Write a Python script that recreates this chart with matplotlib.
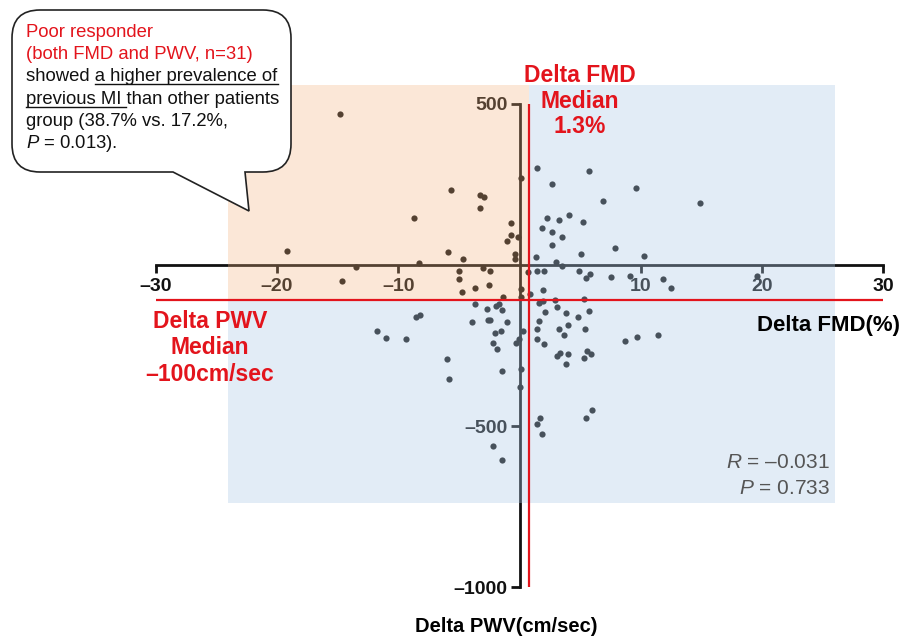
"""
Delta FMD vs Delta PWV scatter with median split (poor responder quadrant shaded).
Output -> out.png (910x640)
"""
import matplotlib.pyplot as plt
from matplotlib.patches import Rectangle, Polygon, PathPatch
from matplotlib.path import Path
from matplotlib.lines import Line2D

plt.rcParams["font.family"] = ["Liberation Sans", "DejaVu Sans"]
plt.rcParams["mathtext.fontset"] = "custom"
plt.rcParams["mathtext.rm"] = "Liberation Sans"
plt.rcParams["mathtext.it"] = "Liberation Sans:italic"

W, H = 910, 640

# ── data ──────────────────────────────────────────────────────
fmd_delta = [
    -14.77, -5.67, -3.28, -2.90, -3.28, -8.70, -0.73, -0.68, -1.03, -0.15,
    -0.40, -0.37, -19.19, -5.92, -4.68, -8.29, 0.16, -13.48, -3.01, -2.47,
    -4.99, -5.01, -2.49, -3.69, -4.72, -1.34, 0.12, 0.12, -14.66,
    -3.63, -1.90, -1.71, -2.72, -1.47, -8.52, -8.19, -2.43, -2.62, -3.90,
    -1.01, -11.77, -11.01, -9.32, -2.02, -1.51, -2.17, -1.85, -0.31, -0.04,
    0.31, -6.00, -5.79, -1.42, 0.11, 0.04, -2.18, -1.48,
    1.44, 5.71, 2.64, 9.62, 6.86, 14.91, 2.28, 3.28, 4.06, 5.25, 1.87, 2.70,
    3.52, 2.70, 7.89, 1.32, 5.03, 10.25, 3.03, 3.52, 0.70, 1.40, 1.98, 4.92,
    5.85, 5.48, 7.58, 9.11, 11.81, 12.47, 19.56, 1.91, 0.87, 5.33,
    1.58, 1.90, 2.93, 3.07, 2.10, 3.86, 4.85, 5.73, 1.61, 1.42, 3.26, 4.02,
    3.63, 5.40, 1.48, 2.00, 8.70, 9.69, 11.44, 3.36, 3.12, 3.96, 3.81, 5.59,
    5.89, 5.32, 1.69, 1.40, 1.83, 5.46, 6.00,
]
pwv_delta = [
    467, 233, 217, 212, 178, 146, 131, 94, 75, 88,
    35, 18, 43, 41, 19, 5, 270, -6, -10, -19,
    -20, -43, -61, -72, -83, -98, -74, -98, -49,
    -120, -127, -121, -135, -140, -162, -156, -169, -172, -178,
    -176, -204, -225, -231, -212, -205, -242, -260, -243, -228,
    -206, -290, -354, -329, -322, -379, -561, -605,
    300, 292, 250, 238, 199, 192, 147, 139, 154, 132, 115, 103,
    86, 63, 52, 24, 34, 27, 9, -2, -22, -18, -19, -20,
    -27, -41, -38, -33, -44, -72, -33, -78, -91, -105,
    -119, -112, -109, -129, -147, -150, -160, -144, -174, -197, -199, -187,
    -216, -199, -230, -244, -237, -224, -217, -272, -283, -277, -307, -267,
    -276, -287, -475, -494, -525, -473, -450,
]

x_ticks = [-30, -20, -10, 10, 20, 30]
x_ticklabels = ["–30", "–20", "–10", "10", "20", "30"]
y_ticks = [500, -500, -1000]
y_ticklabels = ["500", "–500", "–1000"]

fmd_median_line = 0.8      # where the red line sits in the figure
pwv_median_line = -110
region_x = (-24, 26)       # shaded region extent
region_y = (-737, 557)

RED = "#e3141c"


def px(x, y):
    """pixel (from top-left) -> axes fraction (axes fills the figure)"""
    return x / W, 1 - y / H


fig = plt.figure(figsize=(W / 100, H / 100), dpi=100)
ax = fig.add_axes([0, 0, 1, 1])
ax.set_xlim(-42.83, 32.19)
ax.set_ylim(-1162.8, 821.7)

# axes crossing at (0, 0)
for s in ("top", "right"):
    ax.spines[s].set_visible(False)
ax.spines["left"].set_position(("data", 0))
ax.spines["bottom"].set_position(("data", 0))
ax.spines["left"].set_bounds(-1000, 500)
ax.spines["bottom"].set_bounds(-30, 30)
for s in ("left", "bottom"):
    ax.spines[s].set_linewidth(2)
    ax.spines[s].set_color("#111111")

ax.set_xticks(x_ticks, x_ticklabels)
ax.set_yticks(y_ticks, y_ticklabels)
ax.tick_params(axis="x", direction="out", length=6, width=2, pad=3.5,
               labelsize=14, colors="#111111")
ax.tick_params(axis="y", direction="out", length=6.5, width=2, pad=2,
               labelsize=14, colors="#111111")
for lab in ax.get_xticklabels() + ax.get_yticklabels():
    lab.set_fontweight("bold")

ax.scatter(fmd_delta, pwv_delta, s=20, color="#111111", linewidths=0, zorder=3)

# translucent overlays (on top of points, like the original)
x0, x1 = region_x
y0, y1 = region_y
ax.add_patch(Rectangle((x0, pwv_median_line), fmd_median_line - x0, y1 - pwv_median_line,
                       facecolor="#f2b27d", alpha=0.3, lw=0, zorder=4))
ax.add_patch(Polygon([(fmd_median_line, y1), (x1, y1), (x1, y0), (x0, y0),
                      (x0, pwv_median_line), (fmd_median_line, pwv_median_line)],
                     closed=True, facecolor="#acc9e6", alpha=0.35, lw=0, zorder=4))

# median lines
ax.hlines(pwv_median_line, -30, 30, color=RED, lw=1.6, zorder=5)
ax.vlines(fmd_median_line, -1000, 500, color=RED, lw=1.6, zorder=5)

# labels
ax.text(*px(757, 326), "Delta FMD(%)", transform=ax.transAxes, ha="left", va="center",
        fontsize=16, fontweight="bold", zorder=6)
ax.text(*px(506, 627), "Delta PWV(cm/sec)", transform=ax.transAxes, ha="center", va="center",
        fontsize=14.5, fontweight="bold", zorder=6)
ax.text(*px(210, 348), "Delta PWV\nMedian\n–100cm/sec", transform=ax.transAxes,
        ha="center", va="center", multialignment="center", linespacing=1.17,
        fontsize=16.5, fontweight="bold", color=RED, zorder=6)
ax.text(*px(580, 101), "Delta FMD\nMedian\n1.3%", transform=ax.transAxes,
        ha="center", va="center", multialignment="center", linespacing=1.15,
        fontsize=16.5, fontweight="bold", color=RED, zorder=6)

ax.text(*px(830, 463), r"$\mathit{R}$ = –0.031", transform=ax.transAxes, ha="right",
        va="center", fontsize=15, color="#555555", zorder=6)
ax.text(*px(830, 489), r"$\mathit{P}$ = 0.733", transform=ax.transAxes, ha="right",
        va="center", fontsize=15, color="#555555", zorder=6)

# speech bubble
bx0, bx1, by0, by1, r = 12, 291, 10, 172, 28
tail_a, tail_b, tip = 173, 245, (249, 211)
verts = [(bx0 + r, by0), (bx1 - r, by0), (bx1, by0), (bx1, by0 + r),
         (bx1, by1 - r), (bx1, by1), (bx1 - r, by1),
         (tail_b, by1), tip, (tail_a, by1),
         (bx0 + r, by1), (bx0, by1), (bx0, by1 - r),
         (bx0, by0 + r), (bx0, by0), (bx0 + r, by0), (bx0 + r, by0)]
codes = [Path.MOVETO, Path.LINETO, Path.CURVE3, Path.CURVE3,
         Path.LINETO, Path.CURVE3, Path.CURVE3,
         Path.LINETO, Path.LINETO, Path.LINETO,
         Path.LINETO, Path.CURVE3, Path.CURVE3,
         Path.LINETO, Path.CURVE3, Path.CURVE3, Path.CLOSEPOLY]
bubble = Path([px(*v) for v in verts], codes)
ax.add_patch(PathPatch(bubble, transform=ax.transAxes, facecolor="white",
                       edgecolor="#222222", lw=1.2, zorder=7, clip_on=False))

bubble_lines = [
    ("Poor responder", RED),
    ("(both FMD and PWV, n=31)", RED),
    ("showed a higher prevalence of", "#111111"),
    ("previous MI than other patients", "#111111"),
    ("group (38.7% vs. 17.2%,", "#111111"),
    (r"$\mathit{P}$ = 0.013).", "#111111"),
]
for i, (line, col) in enumerate(bubble_lines):
    ax.text(*px(26, 37 + 22.2 * i), line, transform=ax.transAxes, ha="left",
            va="baseline", fontsize=13.3, color=col, zorder=8)

# underlines
for (ux0, ux1, uy) in [(95, 278, 84), (26, 126, 106.5)]:
    ax.add_line(Line2D([ux0 / W, ux1 / W], [1 - uy / H, 1 - uy / H],
                       transform=ax.transAxes, color="#111111", lw=1, zorder=8))

fig.savefig("out.png", dpi=100)
